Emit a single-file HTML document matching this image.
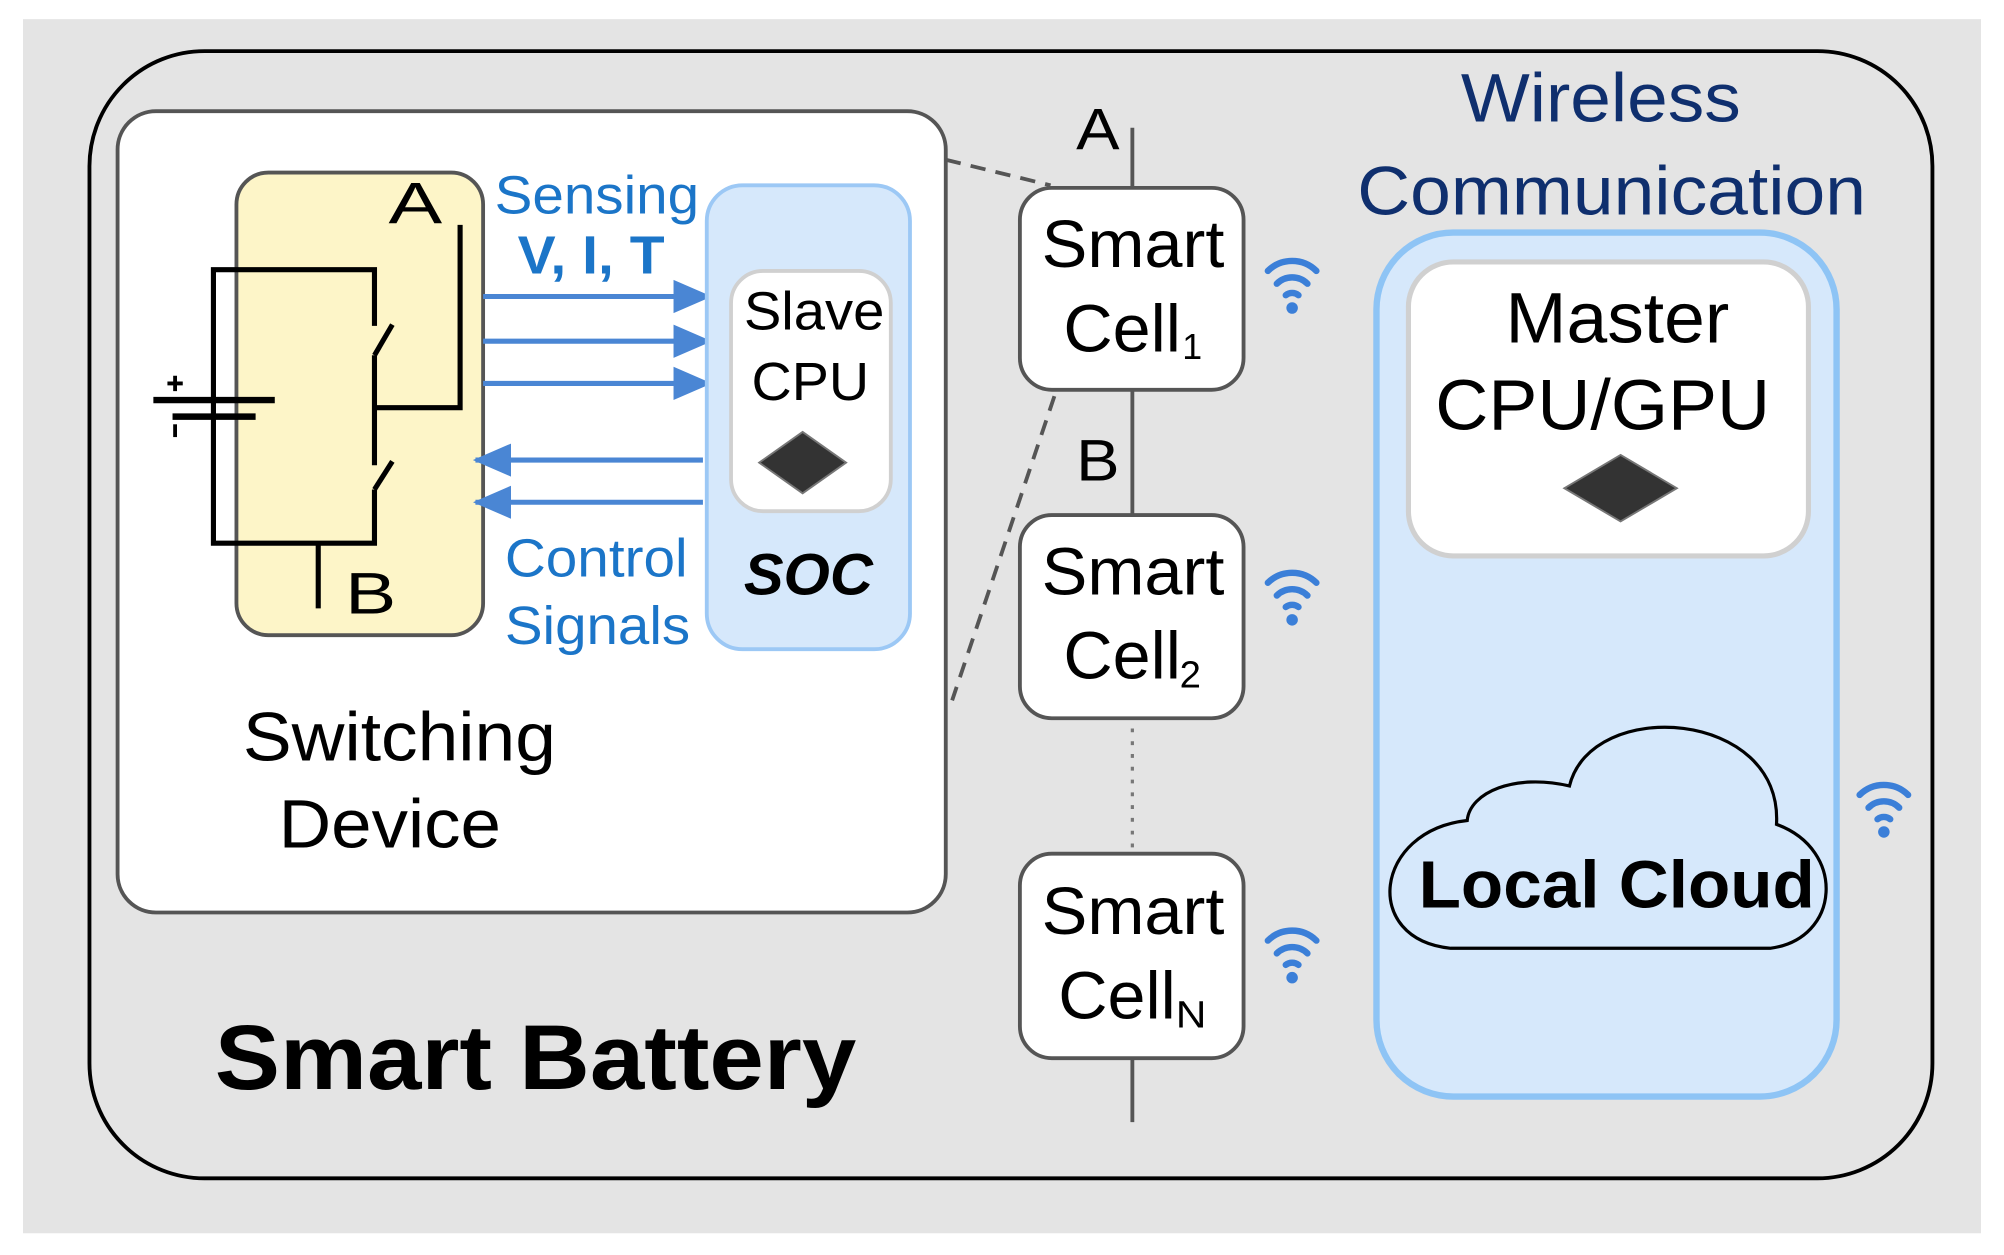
<!DOCTYPE html>
<html><head><meta charset="utf-8"><style>html,body{margin:0;padding:0;background:#fff}svg{display:block}text{font-family:"Liberation Sans",sans-serif}</style></head><body>
<svg width="2004" height="1255" viewBox="0 0 1568 982" preserveAspectRatio="none" xmlns="http://www.w3.org/2000/svg">
<defs>
<g id="wifi" fill="none" stroke="#3b7fd8" stroke-width="5" stroke-linecap="round">
<path d="M-19,-12 A27,27 0 0 1 19,-12"/><path d="M-12,-2 A17,17 0 0 1 12,-2"/><path d="M-5,7 A8,8 0 0 1 5,7"/><circle cx="0" cy="17" r="4.5" fill="#3b7fd8" stroke="none"/>
</g>
<marker id="ah" markerWidth="30" markerHeight="30" refX="28" refY="15" orient="auto" markerUnits="userSpaceOnUse" viewBox="0 0 30 30"><path d="M0,2 L30,15 L0,28Z" fill="#4a86d4"/></marker>
</defs>
<rect x="18" y="15" width="1532" height="950" fill="#e4e4e4"/>
<rect x="70" y="40" width="1442" height="882" rx="90" fill="#e4e4e4" stroke="#000" stroke-width="3"/>
<rect x="92" y="87" width="648" height="627" rx="30" fill="#fff" stroke="#555" stroke-width="3"/>
<rect x="185" y="135" width="193" height="362" rx="25" fill="#fdf5c8" stroke="#555" stroke-width="3"/>
<g stroke="#000" stroke-width="4" fill="none">
<path d="M293,255 L293,211 L167,211 L167,425 L293,425 L293,383"/>
<path d="M293,278 L307,254"/><path d="M293,278 L293,364"/>
<path d="M293,383 L307,361"/>
<path d="M360,176 L360,319 L293,319"/>
<path d="M249,425 L249,476"/>
<path d="M120,313 L215,313" stroke-width="5"/><path d="M135,326 L200,326" stroke-width="5"/>
<path d="M137,294 L137,306 M131,300 L143,300" stroke-width="3"/><path d="M137,332 L137,342" stroke-width="3"/>
</g>
<text x="304" y="175" font-size="46" textLength="42" lengthAdjust="spacingAndGlyphs">A</text>
<text x="270" y="480" font-size="46" textLength="40" lengthAdjust="spacingAndGlyphs">B</text>
<text x="387" y="167" font-size="42" fill="#1b75c8" textLength="160" lengthAdjust="spacingAndGlyphs">Sensing</text>
<text x="405" y="214" font-size="42" font-weight="bold" fill="#1b75c8" textLength="115" lengthAdjust="spacingAndGlyphs">V, I, T</text>
<g stroke="#4a86d4" stroke-width="4">
<line x1="378" y1="232" x2="555" y2="232" marker-end="url(#ah)"/>
<line x1="378" y1="267" x2="555" y2="267" marker-end="url(#ah)"/>
<line x1="378" y1="300" x2="555" y2="300" marker-end="url(#ah)"/>
<line x1="550" y1="360" x2="372" y2="360" marker-end="url(#ah)"/>
<line x1="550" y1="393" x2="372" y2="393" marker-end="url(#ah)"/>
</g>
<text x="395" y="451" font-size="42" fill="#1b75c8" textLength="143" lengthAdjust="spacingAndGlyphs">Control</text>
<text x="395" y="504" font-size="42" fill="#1b75c8" textLength="145" lengthAdjust="spacingAndGlyphs">Signals</text>
<rect x="553" y="145" width="159" height="363" rx="28" fill="#d6e8fb" stroke="#9cc8f5" stroke-width="3"/>
<rect x="572" y="212" width="125" height="188" rx="25" fill="#fff" stroke="#d0d0d0" stroke-width="3"/>
<text x="582" y="258" font-size="42" textLength="110" lengthAdjust="spacingAndGlyphs">Slave</text>
<text x="588" y="313" font-size="42" textLength="92" lengthAdjust="spacingAndGlyphs">CPU</text>
<path d="M628,338 L662,362 L628,386 L594,362Z" fill="#333" stroke="#777" stroke-width="1.5"/>
<text x="582" y="465" font-size="46" font-weight="bold" font-style="italic" textLength="101" lengthAdjust="spacingAndGlyphs">SOC</text>
<text x="190" y="595" font-size="54" textLength="245" lengthAdjust="spacingAndGlyphs">Switching</text>
<text x="218" y="663" font-size="54" textLength="174" lengthAdjust="spacingAndGlyphs">Device</text>
<g stroke="#555" stroke-width="3" stroke-dasharray="12,8" fill="none">
<path d="M740,125 L822,145"/><path d="M825,310 L745,548"/>
</g>
<line x1="886" y1="100" x2="886" y2="560" stroke="#555" stroke-width="3"/>
<line x1="886" y1="560" x2="886" y2="668" stroke="#777" stroke-width="2.5" stroke-dasharray="3,7"/>
<line x1="886" y1="828" x2="886" y2="878" stroke="#555" stroke-width="3"/>
<text x="842" y="117" font-size="46" textLength="34" lengthAdjust="spacingAndGlyphs">A</text>
<text x="842" y="376" font-size="46" textLength="34" lengthAdjust="spacingAndGlyphs">B</text>
<g stroke="#555" stroke-width="3" fill="#fff">
<rect x="798" y="147" width="175" height="158" rx="25"/>
<rect x="798" y="403" width="175" height="159" rx="25"/>
<rect x="798" y="668" width="175" height="160" rx="25"/>
</g>
<g font-size="52">
<text x="815" y="209" textLength="143" lengthAdjust="spacingAndGlyphs">Smart</text><text x="832" y="275" textLength="92" lengthAdjust="spacingAndGlyphs">Cell</text><text x="925" y="281" font-size="28">1</text>
<text x="815" y="465" textLength="143" lengthAdjust="spacingAndGlyphs">Smart</text><text x="832" y="531" textLength="92" lengthAdjust="spacingAndGlyphs">Cell</text><text x="923" y="538" font-size="30">2</text>
<text x="815" y="731" textLength="143" lengthAdjust="spacingAndGlyphs">Smart</text><text x="828" y="797" textLength="92" lengthAdjust="spacingAndGlyphs">Cell</text><text x="920" y="804" font-size="30" textLength="24" lengthAdjust="spacingAndGlyphs">N</text>
</g>
<use href="#wifi" x="1011" y="224"/>
<use href="#wifi" x="1011" y="468"/>
<use href="#wifi" x="1011" y="748"/>
<use href="#wifi" x="1474" y="634"/>
<text x="1143" y="95" font-size="54" fill="#0f2f6e" textLength="219" lengthAdjust="spacingAndGlyphs">Wireless</text>
<text x="1062" y="168" font-size="54" fill="#0f2f6e" textLength="398" lengthAdjust="spacingAndGlyphs">Communication</text>
<rect x="1077" y="182" width="360" height="676" rx="60" fill="#d6e8fb" stroke="#8ec4f5" stroke-width="5"/>
<rect x="1102" y="205" width="313" height="230" rx="35" fill="#fff" stroke="#d0d0d0" stroke-width="4"/>
<text x="1178" y="268" font-size="56" textLength="175" lengthAdjust="spacingAndGlyphs">Master</text>
<text x="1123" y="336" font-size="56" textLength="262" lengthAdjust="spacingAndGlyphs">CPU/GPU</text>
<path d="M1268,356 L1312,382 L1268,408 L1224,382Z" fill="#333" stroke="#777" stroke-width="1.5"/>
<path d="M1135,742 L1385,742 C1440,735 1445,665 1390,645 C1395,555 1245,545 1228,615 C1185,605 1150,620 1148,642 C1075,650 1065,735 1135,742 Z" fill="#d6e8fb" stroke="#000" stroke-width="2.5"/>
<text x="1110" y="710" font-size="52" font-weight="bold" textLength="310" lengthAdjust="spacingAndGlyphs">Local Cloud</text>
<text x="168" y="852" font-size="72" font-weight="bold" textLength="502" lengthAdjust="spacingAndGlyphs">Smart Battery</text>
</svg>
</body></html>
